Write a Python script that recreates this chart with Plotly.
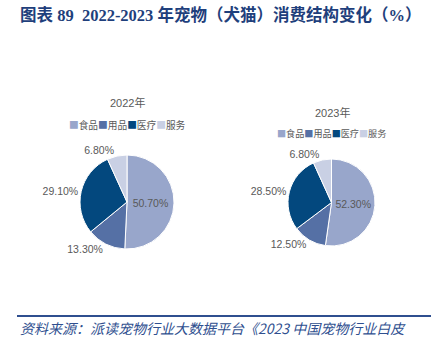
import plotly.graph_objects as go

categories = ["食品", "用品", "医疗", "服务"]
values_2022 = [50.7, 13.3, 29.1, 6.8]
values_2023 = [52.3, 12.5, 28.5, 6.8]
years = ["2022年", "2023年"]
colors = ["#98A6CB", "#5570A5", "#03487E", "#C9D0E4"]

W, H = 438, 339
def px(x): return x / W
def py(y): return 1 - y / H

fig = go.Figure()
text_pos = ["inside", "outside", "outside", "outside"]
common = dict(
    labels=categories, sort=False, direction="clockwise", rotation=0,
    marker=dict(colors=colors, line=dict(color="white", width=1)),
    texttemplate="%{value:.2f}%", textposition=text_pos,
    insidetextorientation="horizontal",
    textfont=dict(family="Arial, Liberation Sans", size=10.5, color="#595959"),
    hoverinfo="label+value", showlegend=False,
)
# pie 1
fig.add_trace(go.Pie(values=values_2022, name=years[0],
                     domain=dict(x=[px(80), px(174)], y=[py(249), py(155)]), **common))
# pie 2
fig.add_trace(go.Pie(values=values_2023, name=years[1],
                     domain=dict(x=[px(288), px(375)], y=[py(246), py(159)]), **common))

fig.update_layout(
    width=W, height=H, margin=dict(l=0, r=0, t=0, b=0),
    paper_bgcolor="white", plot_bgcolor="white",
)

def legend_text():
    return "".join(f"<span style='color:{c}'>■</span>{lab}"
                   for lab, c in zip(categories, colors))

def ann(text, x, y, font, xanchor="center"):
    fig.add_annotation(text=text, x=px(x), y=py(y), xref="paper", yref="paper",
                       xanchor=xanchor, yanchor="middle", showarrow=False, font=font)

legend_font = dict(family="Noto Sans CJK SC", size=9.7, color="#595959")
ann(legend_text(), 127, 125, legend_font)
ann(legend_text(), 331, 133, dict(legend_font, size=9.1))

ann("图表 89  2022-2023 年宠物（犬猫）消费结构变化（%）", 18, 15,
    dict(family="Liberation Serif, Noto Sans CJK SC", size=16.5, color="#1F3F7C", weight="bold"), "left")
year_font = dict(family="Arial, Noto Sans CJK SC", size=11, color="#595959")
ann(years[0], 127, 103, year_font)
ann(years[1], 332, 112, year_font)
fig.add_shape(type="line", x0=px(17), x1=px(431), y0=py(316), y1=py(316), xref="paper", yref="paper",
              line=dict(color="#2F4F8F", width=2))
ann("<i>资料来源：派读宠物行业大数据平台《2023 中国宠物行业白皮</i>", 18, 328,
    dict(family="Noto Sans CJK SC", size=14, color="#2F4F8F"), "left")

fig.write_html("out.html")
